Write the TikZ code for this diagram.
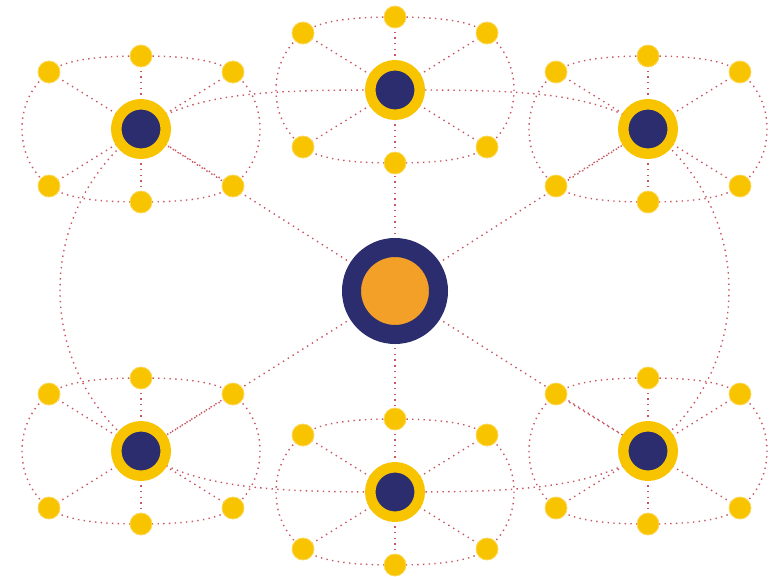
\documentclass[tikz,border=0pt]{standalone}
\usetikzlibrary{calc}
\pgfdeclarelayer{bg}
\pgfsetlayers{bg,main}
\definecolor{hubnavy}{RGB}{44,45,110}
\definecolor{satyellow}{RGB}{248,196,0}
\definecolor{rimyellow}{RGB}{252,216,90}
\definecolor{coreorange}{RGB}{242,160,40}
\definecolor{dotred}{RGB}{200,85,95}
\tikzset{
 dotline/.style={draw=dotred, line width=1.4pt, dash pattern=on 1.4pt off 4.3pt},
 sat/.style={circle, fill=satyellow, draw=rimyellow, line width=0.8pt, minimum size=22pt, inner sep=0pt},
 hub/.style={circle, fill=hubnavy, draw=satyellow, line width=10.5pt, minimum size=49.5pt, inner sep=0pt},
 core/.style={circle, fill=coreorange, draw=hubnavy, line width=19pt, minimum size=87pt, inner sep=0pt},
}
\newcommand{\mkcluster}[3]{%
 \node[hub] (#1) at (#2,#3) {};
 \node[sat] (#1t)  at ({#2},{#3-73}) {};
 \node[sat] (#1b)  at ({#2},{#3+73}) {};
 \node[sat] (#1tl) at ({#2-92},{#3-57}) {};
 \node[sat] (#1tr) at ({#2+92},{#3-57}) {};
 \node[sat] (#1bl) at ({#2-92},{#3+57}) {};
 \node[sat] (#1br) at ({#2+92},{#3+57}) {};
 \coordinate (#1L) at ({#2-119},{#3});
 \coordinate (#1R) at ({#2+119},{#3});
 \begin{pgfonlayer}{bg}
  \draw[dotline] (#1t.center)
     .. controls +(50,0) and +(-14,-11) .. (#1tr.center)
     .. controls +(16,13) and +(0,-25) .. (#1R)
     .. controls +(0,25) and +(16,-13) .. (#1br.center)
     .. controls +(-14,11) and +(50,0) .. (#1b.center)
     .. controls +(-50,0) and +(14,11) .. (#1bl.center)
     .. controls +(-16,-13) and +(0,25) .. (#1L)
     .. controls +(0,-25) and +(-16,13) .. (#1tl.center)
     .. controls +(14,-11) and +(-50,0) .. (#1t.center);
  \foreach \s in {t,tr,br,b,bl,tl} \draw[dotline] (#1.center) -- (#1\s.center);
 \end{pgfonlayer}
}
\begin{document}
\begin{tikzpicture}[x=1pt,y=-1pt]
\useasboundingbox (0,0) rectangle (775,577);
\mkcluster{ca}{141}{129}
\mkcluster{cb}{395}{90}
\mkcluster{cc}{648}{129}
\mkcluster{cd}{141}{451}
\mkcluster{ce}{395}{492}
\mkcluster{cf}{648}{451}
\node[core] (ctr) at (395,291) {};
\begin{pgfonlayer}{bg}
 \draw[dotline] (ca.center) .. controls +(54,-39) and +(-115,0) .. (cb.center)
   .. controls +(115,0) and +(-54,-39) .. (cc.center)
   .. controls +(108,81) and +(108,-81) .. (cf.center)
   .. controls +(-54,39) and +(115,0) .. (ce.center)
   .. controls +(-115,0) and +(54,39) .. (cd.center)
   .. controls +(-108,-81) and +(-108,81) .. (ca.center);
 \foreach \h in {ca,cb,cc,cd,ce,cf} \draw[dotline] (ctr.center) -- (\h.center);
\end{pgfonlayer}
\end{tikzpicture}
\end{document}
